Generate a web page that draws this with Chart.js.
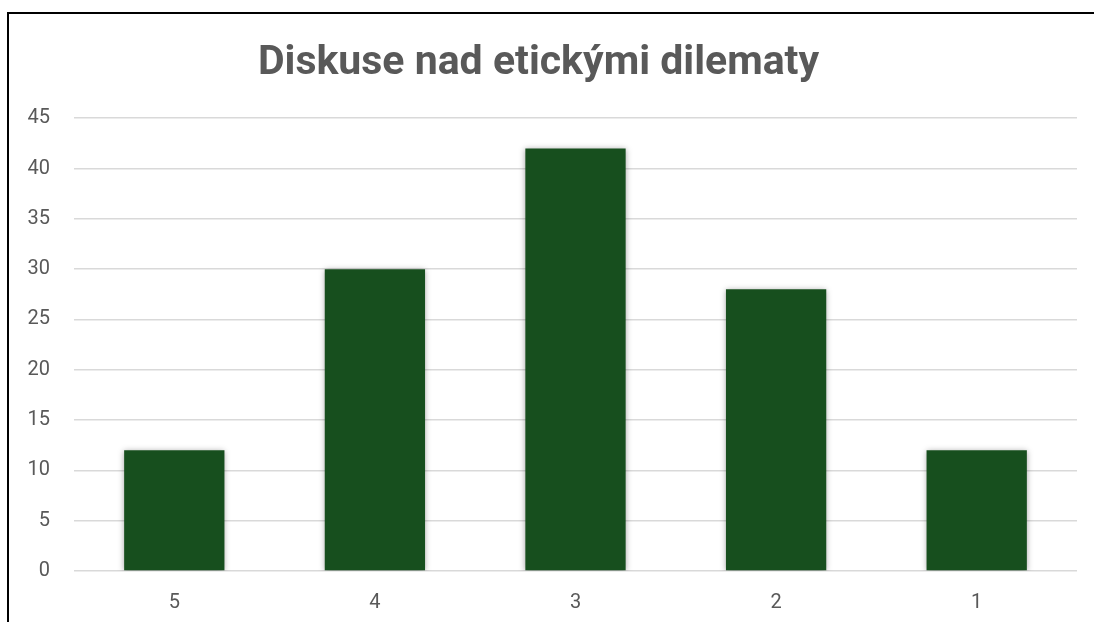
<!DOCTYPE html>
<html>
<head>
<meta charset="utf-8">
<script src="https://cdn.jsdelivr.net/npm/chart.js@4"></script>
<style>
    html, body { margin: 0; padding: 0; background: #fff; overflow: hidden; }
    #wrap { position: relative; width: 1094px; height: 622px; }
    #frame { position: absolute; left: 7px; top: 12px; right: -4px; bottom: -4px; border-left: 2px solid #000; border-top: 2px solid #000; pointer-events: none; }
    canvas { position: absolute; left: 0; top: 0; }
</style>
</head>
<body>
<div id="wrap">
    <canvas id="chart" width="1094" height="622"></canvas>
    <div id="frame"></div>
</div>
<script>
    const categories = ['5', '4', '3', '2', '1'];
    const values = [12, 30, 42, 28, 12];
    const chartTitle = 'Diskuse nad etickými dilematy';

    // stín pod sloupci
    const barShadow = {
        id: 'barShadow',
        beforeDatasetsDraw(chart) {
            const ctx = chart.ctx;
            ctx.save();
            ctx.shadowColor = 'rgba(0, 0, 0, 0.35)';
            ctx.shadowBlur = 6;
            ctx.shadowOffsetX = 0;
            ctx.shadowOffsetY = 1;
        },
        afterDatasetsDraw(chart) {
            chart.ctx.restore();
        }
    };

    const ctx = document.getElementById('chart').getContext('2d');
    new Chart(ctx, {
        type: 'bar',
        data: {
            labels: categories,
            datasets: [{
                data: values,
                backgroundColor: '#174f1e',
                borderWidth: 0,
                categoryPercentage: 1,
                barPercentage: 0.5
            }]
        },
        options: {
            responsive: false,
            animation: false,
            layout: {
                padding: { left: 0, right: 17, top: 0, bottom: 0 }
            },
            scales: {
                y: {
                    min: 0,
                    max: 45,
                    afterFit: function (scale) { scale.width = 74; },
                    ticks: {
                        stepSize: 5,
                        padding: 24,
                        color: '#595959',
                        font: { family: 'Roboto', size: 20 }
                    },
                    border: { display: false },
                    grid: { color: '#d9d9d9', lineWidth: 1.5, drawTicks: false }
                },
                x: {
                    afterFit: function (scale) { scale.height = 51; },
                    ticks: {
                        padding: 20,
                        color: '#595959',
                        font: { family: 'Roboto', size: 20 }
                    },
                    border: { display: false },
                    grid: { display: false, drawTicks: false }
                }
            },
            plugins: {
                legend: { display: false },
                tooltip: { enabled: false },
                title: {
                    display: true,
                    text: chartTitle,
                    color: '#595959',
                    font: { family: 'Roboto', size: 41, weight: 'bold' },
                    padding: { top: 39, bottom: 30 }
                }
            }
        },
        plugins: [barShadow]
    });
</script>
</body>
</html>
